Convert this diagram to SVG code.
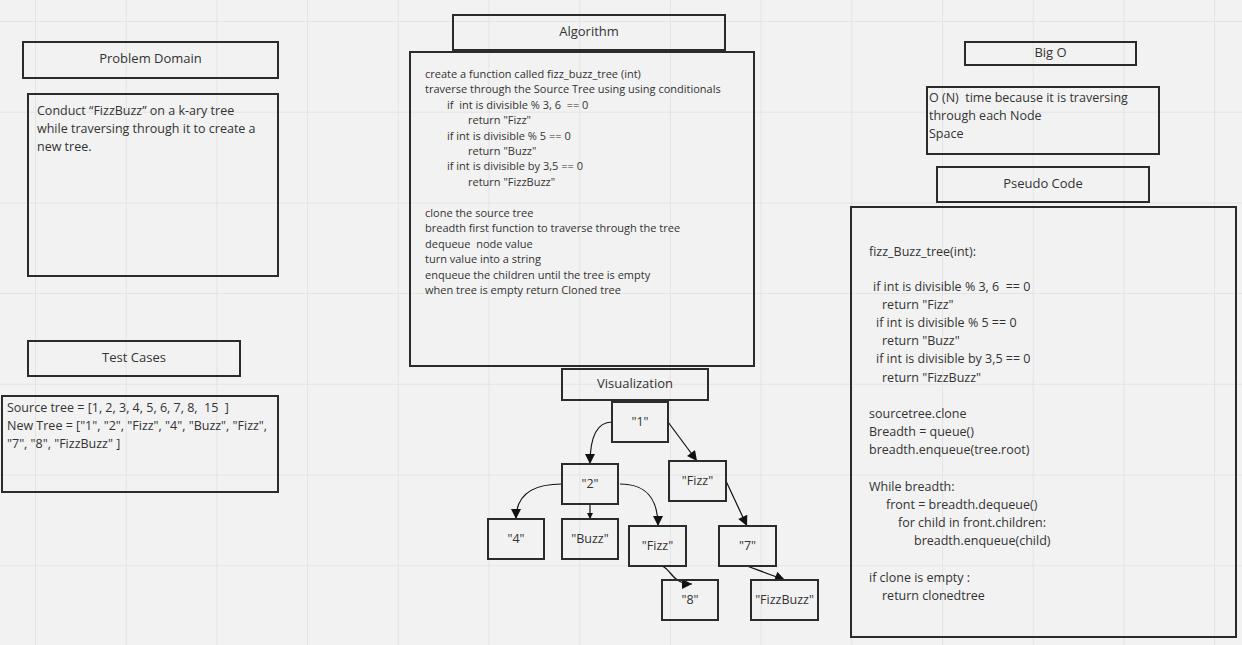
<svg xmlns="http://www.w3.org/2000/svg" width="1242" height="645" viewBox="0 0 1242 645" xml:space="preserve">
<defs>
<style>
.box{fill:none;stroke:#2b2b2b;stroke-width:2}
.t{font-family:"Open Sans","Liberation Sans",sans-serif;fill:#333;white-space:pre}
.h{font-size:13px;text-anchor:middle}
.b{font-size:12.5px}
.a{font-size:11px}
.n{font-size:12.5px;text-anchor:middle}
.edge{fill:none;stroke:#111;stroke-width:1.2}
.grid{stroke:#e4e4e4;stroke-width:1;fill:none}
</style>
<marker id="arr" viewBox="0 0 10 10" refX="10" refY="5" markerWidth="12" markerHeight="10" markerUnits="userSpaceOnUse" orient="auto">
<path d="M0,0 L10,5 L0,10 z" fill="#111"/>
</marker>
<marker id="arrs" viewBox="0 0 10 10" refX="10" refY="5" markerWidth="6" markerHeight="6" markerUnits="userSpaceOnUse" orient="auto">
<path d="M0,0 L10,5 L0,10 z" fill="#111"/>
</marker>
</defs>
<rect width="1242" height="645" fill="#f2f2f2"/>
<path class="grid" d="M35.5,0V645M126.2,0V645M216.9,0V645M307.6,0V645M398.3,0V645M489,0V645M579.7,0V645M670.4,0V645M761.1,0V645M851.8,0V645M942.5,0V645M1033.2,0V645M1123.9,0V645M1214.6,0V645M0,21.5H1242M0,112.2H1242M0,202.9H1242M0,293.6H1242M0,384.3H1242M0,475H1242M0,565.7H1242"/>
<g id="problem-domain-header"><rect class="box" x="23" y="42" width="255" height="36"/><text class="t h" x="150.5" y="63">Problem Domain</text></g>
<g id="problem-domain"><rect class="box" x="28" y="94" width="250" height="182"/>
<text class="t b"><tspan x="37" y="114.5">Conduct “FizzBuzz” on a k-ary tree</tspan><tspan x="37" y="132.5">while traversing through it to create a</tspan><tspan x="37" y="150.5">new tree.</tspan></text></g>
<g id="test-cases-header"><rect class="box" x="28" y="341" width="212" height="35"/><text class="t h" x="134" y="361.5">Test Cases</text></g>
<g id="test-cases"><rect class="box" x="2" y="396" width="276" height="96"/>
<text class="t b"><tspan x="7" y="412">Source tree = [1, 2, 3, 4, 5, 6, 7, 8,  15  ]</tspan><tspan x="7" y="430">New Tree = ["1", "2", "Fizz", "4", "Buzz", "Fizz",</tspan><tspan x="7" y="448">"7", "8", "FizzBuzz" ]</tspan></text></g>
<g id="algorithm-header"><rect class="box" x="453" y="15" width="272" height="35"/><text class="t h" x="589" y="35.5">Algorithm</text></g>
<g id="algorithm"><rect class="box" x="410" y="52" width="344" height="314"/>
<text class="t a"><tspan x="425" y="78">create a function called fizz_buzz_tree (int)</tspan><tspan x="425" y="93">traverse through the Source Tree using using conditionals</tspan><tspan x="447" y="108.5">if  int is divisible % 3, 6  == 0</tspan><tspan x="468" y="124">return "Fizz"</tspan><tspan x="447" y="139.5">if int is divisible % 5 == 0</tspan><tspan x="468" y="155">return "Buzz"</tspan><tspan x="447" y="170">if int is divisible by 3,5 == 0</tspan><tspan x="468" y="186">return "FizzBuzz"</tspan><tspan x="425" y="217">clone the source tree</tspan><tspan x="425" y="232">breadth first function to traverse through the tree</tspan><tspan x="425" y="248">dequeue  node value</tspan><tspan x="425" y="263">turn value into a string</tspan><tspan x="425" y="279">enqueue the children until the tree is empty</tspan><tspan x="425" y="294">when tree is empty return Cloned tree</tspan></text></g>
<g id="big-o-header"><rect class="box" x="965" y="42" width="171" height="23"/><text class="t h" x="1050.5" y="57">Big O</text></g>
<g id="big-o"><rect class="box" x="927" y="87" width="232" height="67"/>
<text class="t b"><tspan x="929" y="102">O (N)  time because it is traversing</tspan><tspan x="929" y="120">through each Node</tspan><tspan x="929" y="138">Space</tspan></text></g>
<g id="pseudo-code-header"><rect class="box" x="937" y="167" width="212" height="35"/><text class="t h" x="1043" y="187.5">Pseudo Code</text></g>
<g id="pseudo-code"><rect class="box" x="851" y="207" width="385" height="430"/>
<text class="t b"><tspan x="869" y="256">fizz_Buzz_tree(int):</tspan><tspan x="873" y="291">if int is divisible % 3, 6  == 0</tspan><tspan x="882" y="309">return "Fizz"</tspan><tspan x="876" y="327">if int is divisible % 5 == 0</tspan><tspan x="882" y="345">return "Buzz"</tspan><tspan x="876" y="363">if int is divisible by 3,5 == 0</tspan><tspan x="882" y="382">return "FizzBuzz"</tspan><tspan x="869" y="418">sourcetree.clone</tspan><tspan x="869" y="436">Breadth = queue()</tspan><tspan x="869" y="454">breadth.enqueue(tree.root)</tspan><tspan x="869" y="491">While breadth:</tspan><tspan x="886" y="509">front = breadth.dequeue()</tspan><tspan x="898" y="527">for child in front.children:</tspan><tspan x="914" y="545">breadth.enqueue(child)</tspan><tspan x="869" y="582">if clone is empty :</tspan><tspan x="882" y="600">return clonedtree</tspan></text></g>
<g id="visualization-header"><rect class="box" x="562" y="369" width="146" height="31"/><text class="t h" x="635" y="388">Visualization</text></g>
<g id="connectors">
<path class="edge" marker-end="url(#arr)" d="M612,422 C596,422 590,438 590,464"/>
<path class="edge" marker-end="url(#arr)" d="M668,422 L697,461"/>
<path class="edge" marker-end="url(#arr)" d="M562,484 C530,484 516,497 516,519"/>
<path class="edge" marker-end="url(#arrs)" d="M590,505 L590,519"/>
<path class="edge" marker-end="url(#arr)" d="M620,484 C648,484 658,500 658,526"/>
<path class="edge" marker-end="url(#arr)" d="M726,481 L747,526"/>
<path class="edge" marker-end="url(#arr)" d="M662,566 C672,570 672,584 692,584"/>
<path class="edge" marker-end="url(#arr)" d="M747,566 L785,580"/>
</g>
<g id="node-1"><rect class="box" x="612" y="402" width="56" height="40"/><text class="t n" x="640" y="426">"1"</text></g>
<g id="node-2"><rect class="box" x="562" y="464" width="56" height="40"/><text class="t n" x="590" y="488">"2"</text></g>
<g id="node-fizz-3"><rect class="box" x="669" y="461" width="57" height="40"/><text class="t n" x="697.5" y="485">"Fizz"</text></g>
<g id="node-4"><rect class="box" x="488" y="519" width="56" height="40"/><text class="t n" x="516" y="543">"4"</text></g>
<g id="node-buzz"><rect class="box" x="562" y="519" width="56" height="40"/><text class="t n" x="590" y="543">"Buzz"</text></g>
<g id="node-fizz-6"><rect class="box" x="629" y="526" width="57" height="40"/><text class="t n" x="657.5" y="550">"Fizz"</text></g>
<g id="node-7"><rect class="box" x="719" y="526" width="57" height="40"/><text class="t n" x="747.5" y="550">"7"</text></g>
<g id="node-8"><rect class="box" x="662" y="580" width="56" height="40"/><text class="t n" x="690" y="604">"8"</text></g>
<g id="node-fizzbuzz"><rect class="box" x="751" y="580" width="67" height="40"/><text class="t n" x="784.5" y="604">"FizzBuzz"</text></g>
</svg>
